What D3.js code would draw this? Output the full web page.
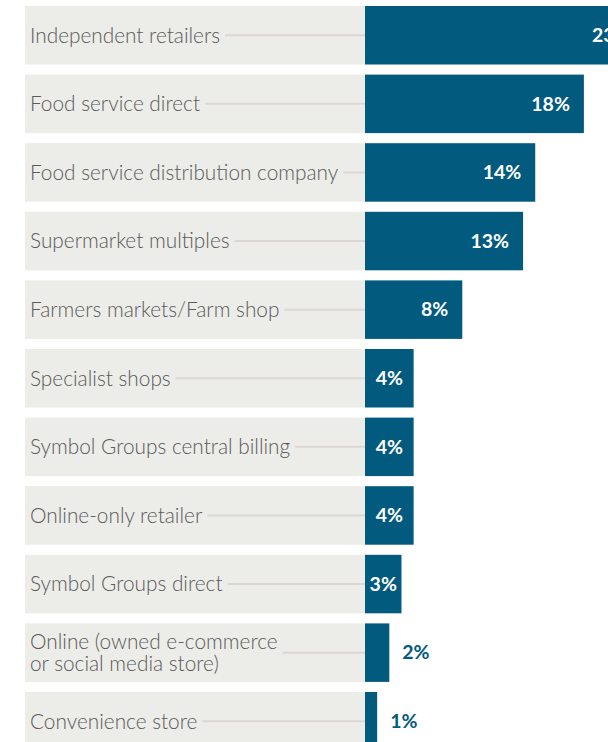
<!DOCTYPE html>
<html>
<head>
<meta charset="utf-8">
<script src="https://cdn.jsdelivr.net/npm/d3@7"></script>
<style>
  html, body { margin: 0; padding: 0; background: #ffffff; }
  svg { display: block; }
</style>
</head>
<body>
<svg id="chart" width="608" height="742"></svg>
<script>
// Share of sales by channel
const categories = [
  ["Independent retailers"],
  ["Food service direct"],
  ["Food service distribution company"],
  ["Supermarket multiples"],
  ["Farmers markets/Farm shop"],
  ["Specialist shops"],
  ["Symbol Groups central billing"],
  ["Online-only retailer"],
  ["Symbol Groups direct"],
  ["Online (owned e-commerce", "or social media store)"],
  ["Convenience store"]
];
const values = [23, 18, 14, 13, 8, 4, 4, 4, 3, 2, 1];

const W = 608, H = 742;
const panelLeft = 25, barStart = 365;
const rowTop = 6, rowStep = 68.6, rowH = 58.5;

const barColor = "#025a7e";
const panelColor = "#ecece8";
const leaderColor = "#dcd7d3";
const labelColor = "#5a5a5a";
const font = "Lato, 'Source Sans Pro', sans-serif";

const svg = d3.select("#chart");

const n = categories.length;
const x = d3.scaleLinear().domain([0, 1]).range([barStart, barStart + 12.16]);
const y = d3.scaleBand()
  .domain(d3.range(n))
  .range([rowTop, rowTop + rowStep * (n - 1) + rowH])
  .paddingInner(1 - rowH / rowStep)
  .paddingOuter(0)
  .align(0);

const rows = svg.selectAll("g.row")
  .data(categories.map((c, i) => ({ lines: c, value: values[i], i })))
  .join("g")
  .attr("class", "row")
  .attr("transform", d => `translate(0,${y(d.i)})`);

// grey label panel
rows.append("rect")
  .attr("x", panelLeft)
  .attr("y", 0)
  .attr("width", barStart - panelLeft)
  .attr("height", y.bandwidth())
  .attr("fill", panelColor);

// category label
const labels = rows.append("text")
  .attr("x", 30)
  .attr("font-family", font)
  .attr("font-size", 20.8)
  .attr("font-weight", 300)
  .attr("fill", labelColor);

labels.each(function(d) {
  const t = d3.select(this);
  const lh = 22;
  const y0 = y.bandwidth() / 2 - (d.lines.length - 1) * lh / 2;
  d.lines.forEach((ln, k) => {
    t.append("tspan")
      .attr("x", 30)
      .attr("y", y0 + k * lh)
      .attr("dy", "0.35em")
      .text(ln);
  });
});

// leader line from label to bar
rows.each(function(d) {
  const g = d3.select(this);
  const firstW = g.select("tspan").node().getComputedTextLength();
  g.insert("line", "text")
    .attr("x1", 30 + firstW + 5)
    .attr("x2", barStart)
    .attr("y1", y.bandwidth() / 2)
    .attr("y2", y.bandwidth() / 2)
    .attr("stroke", leaderColor)
    .attr("stroke-width", 2);
});

// bars
rows.append("rect")
  .attr("x", x(0))
  .attr("y", 0)
  .attr("width", d => x(d.value) - x(0))
  .attr("height", y.bandwidth())
  .attr("fill", barColor);

// value labels
rows.append("text")
  .attr("font-family", font)
  .attr("font-size", 19.5)
  .attr("font-weight", 700)
  .attr("y", y.bandwidth() / 2)
  .attr("dy", "0.35em")
  .text(d => d.value + "%")
  .each(function(d) {
    const t = d3.select(this);
    const tw = this.getComputedTextLength();
    const bw = x(d.value) - x(0);
    if (d.value < 3) {
      t.attr("x", x(d.value) + 13).attr("text-anchor", "start").attr("fill", barColor);
    } else if (bw < tw + 28) {
      t.attr("x", x(0) + bw / 2).attr("text-anchor", "middle").attr("fill", "#ffffff");
    } else {
      t.attr("x", x(d.value) - 14).attr("text-anchor", "end").attr("fill", "#ffffff");
    }
  });
</script>
</body>
</html>
